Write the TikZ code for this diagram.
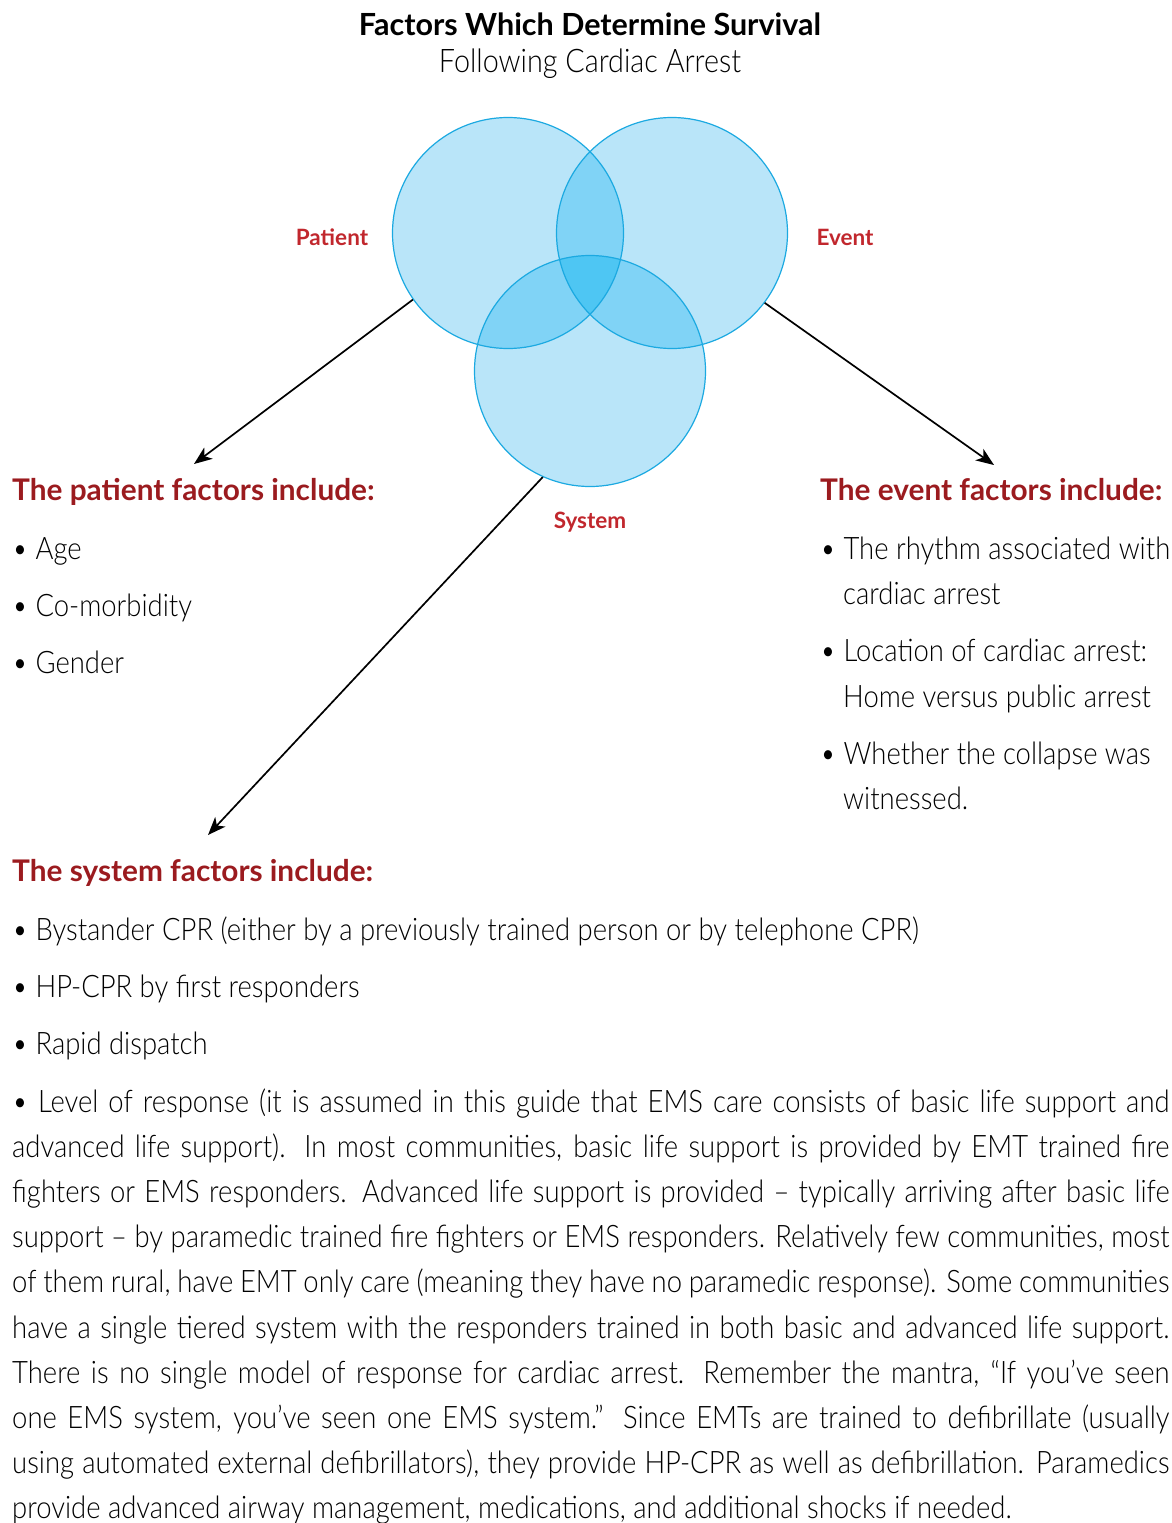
\documentclass[tikz,border=0pt]{standalone}
\usepackage{fontspec}
\setmainfont{Lato}[UprightFont={* Light},BoldFont={* Bold}]
\newfontfamily\lightfont{Lato Light}[FakeStretch=0.885]
\usetikzlibrary{arrows.meta}
\definecolor{vennfill}{HTML}{B9E5F9}
\definecolor{venntwo}{HTML}{80D3F6}
\definecolor{vennthree}{HTML}{4EC6F3}
\definecolor{vennline}{HTML}{1BA9E1}
\definecolor{labelred}{HTML}{C1272D}
\definecolor{headred}{HTML}{9B1B1F}
\tikzset{
  venn/.style={circle, minimum size=231pt, inner sep=0pt, draw=vennline, line width=1.2pt},
  vlabel/.style={anchor=base, inner sep=0pt, text=labelred, font=\bfseries\fontsize{22.5}{26}\selectfont},
  heading/.style={anchor=base west, inner sep=0pt, text=headred, font=\bfseries\fontsize{29.8}{34}\selectfont},
  item/.style={anchor=base west, inner sep=0pt, font=\lightfont\fontsize{31}{37}\selectfont},
  pline/.style={anchor=base west, inner sep=0pt, font=\lightfont\fontsize{31}{37}\selectfont},
  pointer/.style={line width=1.7pt, -{Stealth[length=18pt,width=14pt,inset=5pt]}},
}
\newcommand{\vr}{115.5pt}
\begin{document}
\begin{tikzpicture}[x=1pt,y=-1pt]
\useasboundingbox (0,0) rectangle (1171,1523);

% title
\node[anchor=base, inner sep=0pt, font=\bfseries\fontsize{30.5}{34}\selectfont] (title) at (590,35) {Factors Which Determine Survival};
\node[anchor=base, inner sep=0pt, font=\lightfont\fontsize{32.5}{36}\selectfont] (subtitle) at (590,72) {Following Cardiac Arrest};

% Venn diagram: plain discs, then the two- and three-way overlaps
\coordinate (cp) at (508,233);
\coordinate (ce) at (672,233);
\coordinate (cs) at (590,371);
\fill[vennfill] (cp) circle (\vr);
\fill[vennfill] (ce) circle (\vr);
\fill[vennfill] (cs) circle (\vr);
\begin{scope}
  \clip (cp) circle (\vr);
  \fill[venntwo] (ce) circle (\vr);
  \fill[venntwo] (cs) circle (\vr);
\end{scope}
\begin{scope}
  \clip (ce) circle (\vr);
  \fill[venntwo] (cs) circle (\vr);
\end{scope}
\begin{scope}
  \clip (cp) circle (\vr);
  \clip (ce) circle (\vr);
  \fill[vennthree] (cs) circle (\vr);
\end{scope}
\node[venn] (patient) at (cp) {};
\node[venn] (event) at (ce) {};
\node[venn] (system) at (cs) {};

\node[vlabel] (plab) at (332,245) {Patient};
\node[vlabel] (elab) at (845,245) {Event};
\node[vlabel] (slab) at (590,528) {System};

% arrows to the three lists
\coordinate (ptip) at (194,464);
\coordinate (etip) at (994,465);
\coordinate (stip) at (208,835);
\draw[pointer] (patient.215.6) -- (ptip);
\draw[pointer] (event.323.4) -- (etip);
\draw[pointer] (system.246.3) -- (stip);

% patient factors
\node[heading] (phead) at (12,500) {The patient factors include:};
\node[item] (p1) at (12,559) {• Age};
\node[item] (p2) at (12,616) {• Co-morbidity};
\node[item] (p3) at (12,673) {• Gender};

% event factors
\node[heading] (ehead) at (820,500) {The event factors include:};
\node[item] (e1) at (820,559) {• The rhythm associated with};
\node[item] (e1b) at (843,604) {cardiac arrest};
\node[item] (e2) at (820,661) {• Location of cardiac arrest:};
\node[item] (e2b) at (843,707) {Home versus public arrest};
\node[item] (e3) at (820,764) {• Whether the collapse was};
\node[item] (e3b) at (843,809) {witnessed.};

% system factors
\node[heading] (shead) at (12,881) {The system factors include:};
\node[item] (s1) at (12,940) {• Bystander CPR (either by a previously trained person or by telephone CPR)};
\node[item] (s2) at (12,997) {• HP-CPR by first responders};
\node[item] (s3) at (12,1054) {• Rapid dispatch};

% justified paragraph, one box per line
\node[pline] (l1) at (12,1112) {\makebox[1157pt][s]{• Level of response (it is assumed in this guide that EMS care consists of basic life support and}};
\node[pline] (l2) at (12,1157.2) {\makebox[1157pt][s]{advanced life support).  In most communities, basic life support is provided by EMT trained fire}};
\node[pline] (l3) at (12,1202.4) {\makebox[1157pt][s]{fighters or EMS responders.  Advanced life support is provided – typically arriving after basic life}};
\node[pline] (l4) at (12,1247.6) {\makebox[1157pt][s]{support – by paramedic trained fire fighters or EMS responders.  Relatively few communities, most}};
\node[pline] (l5) at (12,1292.8) {\makebox[1157pt][s]{of them rural, have EMT only care (meaning they have no paramedic response).  Some communities}};
\node[pline] (l6) at (12,1338) {\makebox[1157pt][s]{have a single tiered system with the responders trained in both basic and advanced life support.}};
\node[pline] (l7) at (12,1383.2) {\makebox[1157pt][s]{There is no single model of response for cardiac arrest.  Remember the mantra, “If you’ve seen}};
\node[pline] (l8) at (12,1428.4) {\makebox[1157pt][s]{one EMS system, you’ve seen one EMS system.”  Since EMTs are trained to defibrillate (usually}};
\node[pline] (l9) at (12,1473.6) {\makebox[1157pt][s]{using automated external defibrillators), they provide HP-CPR as well as defibrillation.  Paramedics}};
\node[pline] (l10) at (12,1518.5) {provide advanced airway management, medications, and additional shocks if needed.};
\end{tikzpicture}
\end{document}
